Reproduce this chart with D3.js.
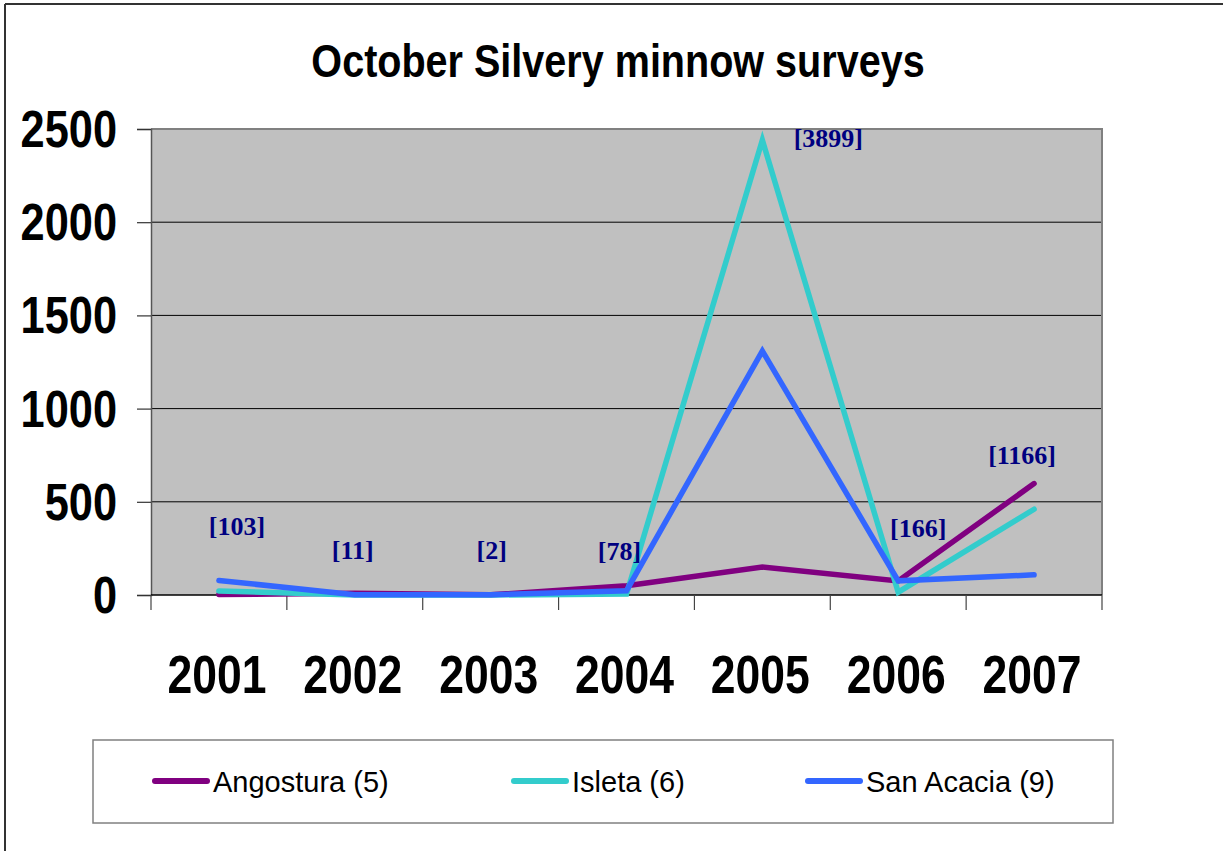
<!DOCTYPE html>
<html>
<head>
<meta charset="utf-8">
<script src="https://cdn.jsdelivr.net/npm/d3@7"></script>
<style>
  html, body { margin: 0; padding: 0; background: #fff; }
  svg { display: block; font-family: "Liberation Sans", Arial, sans-serif; }
</style>
</head>
<body>
<svg id="chart" width="1223" height="851"></svg>
<script>
// ---- data ----
const years = ["2001", "2002", "2003", "2004", "2005", "2006", "2007"];
const angostura = [3, 9, 1, 50, 150, 75, 598];
const isleta = [22, 0, 0, 5, 2440, 15, 460];
const sanAcacia = [78, 2, 1, 23, 1309, 76, 108];
const totals = ["[103]", "[11]", "[2]", "[78]", "[3899]", "[166]", "[1166]"];
const yTicks = [0, 500, 1000, 1500, 2000, 2500];
const seriesNames = ["Angostura (5)", "Isleta (6)", "San Acacia (9)"];
const seriesColors = ["#800080", "#33CCCC", "#3366FF"];
// label offsets (px) from the top point of each year
const labelDx = [18, -2, 1, -7, 66, 20, -12];
const labelDy = [-45, -34, -36, -26, 7, -44, -20];

const series = [angostura, isleta, sanAcacia];

const svg = d3.select("#chart");
const plot = { left: 151, right: 1102, top: 129, bottom: 595 };

// outer frame (top and left visible)
svg.append("line").attr("x1", 5).attr("x2", 1223).attr("y1", 4).attr("y2", 4)
  .attr("stroke", "#333").attr("stroke-width", 2);
svg.append("line").attr("x1", 5).attr("x2", 5).attr("y1", 4).attr("y2", 851)
  .attr("stroke", "#333").attr("stroke-width", 2);

// title
svg.append("text")
  .attr("transform", "translate(618,77) scale(0.86,1)")
  .attr("text-anchor", "middle")
  .attr("font-weight", "bold")
  .attr("font-size", 46)
  .attr("fill", "#000")
  .text("October Silvery minnow surveys");

const x = d3.scaleBand().domain(years).range([plot.left, plot.right]).paddingInner(0).paddingOuter(0);
const y = d3.scaleLinear().domain([0, 2500]).range([plot.bottom, plot.top]);
const xc = d => x(d) + x.bandwidth() / 2;

// plot background
svg.append("rect")
  .attr("x", plot.left).attr("y", plot.top)
  .attr("width", plot.right - plot.left).attr("height", plot.bottom - plot.top)
  .attr("fill", "#C0C0C0");

// gridlines
svg.append("g").selectAll("line")
  .data(yTicks.filter(t => t > 0 && t < 2500))
  .join("line")
  .attr("x1", plot.left).attr("x2", plot.right)
  .attr("y1", d => y(d)).attr("y2", d => y(d))
  .attr("stroke", "#000").attr("stroke-width", 1);

// plot border top & right (gray)
svg.append("line").attr("x1", plot.left).attr("x2", plot.right + 1)
  .attr("y1", plot.top).attr("y2", plot.top)
  .attr("stroke", "#808080").attr("stroke-width", 2);
svg.append("line").attr("x1", plot.right).attr("x2", plot.right)
  .attr("y1", plot.top).attr("y2", plot.bottom)
  .attr("stroke", "#808080").attr("stroke-width", 2);

// y axis
const yAxis = d3.axisLeft(y).tickValues(yTicks).tickSize(14).tickFormat("");
const yg = svg.append("g").attr("transform", `translate(${plot.left},0)`).call(yAxis);
yg.select(".domain").attr("stroke", "#555").attr("stroke-width", 1.5);
yg.selectAll(".tick line").attr("stroke", "#333").attr("stroke-width", 1.2);
svg.append("g").selectAll("text")
  .data(yTicks)
  .join("text")
  .attr("transform", d => `translate(117,${y(d) + 18}) scale(0.85,1)`)
  .attr("text-anchor", "end")
  .attr("font-weight", "bold")
  .attr("font-size", 51)
  .attr("fill", "#000")
  .text(d => d);

// x axis line & ticks at category boundaries
svg.append("line").attr("x1", plot.left).attr("x2", plot.right)
  .attr("y1", plot.bottom).attr("y2", plot.bottom)
  .attr("stroke", "#000").attr("stroke-width", 1.5);
const bounds = years.map(d => x(d)).concat([plot.right]);
svg.append("g").selectAll("line")
  .data(bounds)
  .join("line")
  .attr("x1", d => d).attr("x2", d => d)
  .attr("y1", plot.bottom).attr("y2", plot.bottom + 15)
  .attr("stroke", "#444").attr("stroke-width", 1.2);
svg.append("g").selectAll("text")
  .data(years)
  .join("text")
  .attr("transform", d => `translate(${xc(d) - 2},693) scale(0.84,1)`)
  .attr("text-anchor", "middle")
  .attr("font-weight", "bold")
  .attr("font-size", 53)
  .attr("fill", "#000")
  .text(d => d);

// lines
const line = d3.line().x((d, i) => xc(years[i])).y(d => y(d));
series.forEach((s, k) => {
  svg.append("path")
    .datum(s)
    .attr("d", line)
    .attr("fill", "none")
    .attr("stroke", seriesColors[k])
    .attr("stroke-width", 5.5)
    .attr("stroke-linejoin", "miter")
    .attr("stroke-linecap", "round");
});

// total labels
svg.append("g").selectAll("text")
  .data(years)
  .join("text")
  .attr("x", (d, i) => xc(d) + labelDx[i])
  .attr("y", (d, i) => y(Math.max(angostura[i], isleta[i], sanAcacia[i])) + labelDy[i])
  .attr("text-anchor", "middle")
  .style("font-family", "'Liberation Serif', 'Times New Roman', serif")
  .attr("font-weight", "bold")
  .attr("font-size", 26)
  .attr("fill", "#000080")
  .text((d, i) => totals[i]);

// legend
const lg = svg.append("g");
lg.append("rect")
  .attr("x", 93).attr("y", 740).attr("width", 1020).attr("height", 83)
  .attr("fill", "#fff").attr("stroke", "#808080").attr("stroke-width", 1.5);
const legendX = [155, 514, 808];
seriesNames.forEach((n, k) => {
  lg.append("line")
    .attr("x1", legendX[k]).attr("x2", legendX[k] + 52)
    .attr("y1", 781).attr("y2", 781)
    .attr("stroke", seriesColors[k]).attr("stroke-width", 6)
    .attr("stroke-linecap", "round");
  lg.append("text")
    .attr("x", legendX[k] + 58).attr("y", 792)
    .attr("font-size", 29)
    .attr("fill", "#000")
    .text(n);
});
</script>
</body>
</html>
